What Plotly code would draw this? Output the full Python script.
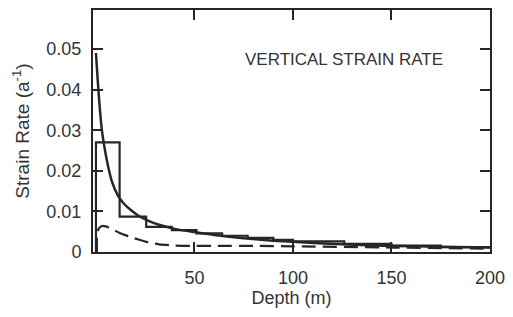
import plotly.graph_objects as go

# Solid model curve
curve_depth = [0, 0.8, 1.7, 3, 4.6, 6, 8, 11, 14, 18, 22, 27, 32, 40, 50, 60, 75, 90, 100, 125, 150, 175, 200]
curve_rate = [0.049, 0.043, 0.037, 0.030, 0.025, 0.0215, 0.0175, 0.0140, 0.0120, 0.0102, 0.0088, 0.0076, 0.0067, 0.0057, 0.0049, 0.0042, 0.0034, 0.0028, 0.0025, 0.0019, 0.0015, 0.0013, 0.0011]

# Dashed curve
dash_depth = [0.5, 0.6, 1.5, 3, 5, 8, 12, 17, 22, 27, 32, 40, 50, 60, 80, 100, 150, 200]
dash_rate = [0.0, 0.0045, 0.0058, 0.0064, 0.0063, 0.0057, 0.0047, 0.0038, 0.0030, 0.0023, 0.0019, 0.0016, 0.0015, 0.0015, 0.0015, 0.0014, 0.0011, 0.0008]

# Step (layer-averaged) values
step_edges = [0, 12, 25.5, 38.5, 51, 64, 77, 90, 100, 126, 150, 175, 200]
step_rate = [0.027, 0.0087, 0.0062, 0.0054, 0.0046, 0.0040, 0.0035, 0.0030, 0.0026, 0.0020, 0.0016, 0.0012]

x_ticks = [50, 100, 150, 200]
x_ticklabels = ["50", "100", "150", "200"]
y_ticks = [0, 0.01, 0.02, 0.03, 0.04, 0.05]
y_ticklabels = ["0", "0.01", "0.02", "0.03", "0.04", "0.05"]

ink = "#262626"
txt = "#333333"
font_family = "Liberation Sans"

step_x = [step_edges[0]]
step_y = [0]
for i, v in enumerate(step_rate):
    step_x += [step_edges[i], step_edges[i + 1]]
    step_y += [v, v]

fig = go.Figure()
fig.add_trace(go.Scatter(x=step_x, y=step_y, mode="lines",
                         line=dict(color=ink, width=2.2), hoverinfo="skip"))
fig.add_trace(go.Scatter(x=curve_depth, y=curve_rate, mode="lines",
                         line=dict(color=ink, width=2.5, shape="spline", smoothing=0.6),
                         hoverinfo="skip"))
fig.add_trace(go.Scatter(x=dash_depth, y=dash_rate, mode="lines",
                         line=dict(color=ink, width=2.2, dash="14px,7px", shape="spline", smoothing=0.6),
                         hoverinfo="skip"))

fig.add_annotation(x=126, y=0.0473, xref="x", yref="y", text="VERTICAL STRAIN RATE",
                   showarrow=False, font=dict(family=font_family, size=17, color=txt))

axis_common = dict(showline=True, linecolor=ink, linewidth=2, mirror="ticks",
                   ticks="inside", ticklen=10, tickwidth=1.5, tickcolor=ink,
                   showgrid=False, zeroline=False,
                   tickfont=dict(family=font_family, size=18, color=txt))

fig.update_layout(
    width=505, height=309,
    margin=dict(l=85, r=23, t=2, b=65, autoexpand=False),
    paper_bgcolor="white", plot_bgcolor="white",
    showlegend=False,
    xaxis=dict(range=[-1.5, 200], tickvals=x_ticks, ticktext=x_ticklabels,
               ticklabelstandoff=8,
               title=dict(text="Depth (m)", font=dict(family=font_family, size=18, color=txt), standoff=2),
               **axis_common),
    yaxis=dict(range=[0, 0.0596], tickvals=y_ticks, ticktext=y_ticklabels,
               ticklabelstandoff=6,
               title=dict(text="Strain Rate (a<sup>-1</sup>)", font=dict(family=font_family, size=19, color=txt), standoff=12),
               **axis_common),
)

fig.write_html("out.html")
